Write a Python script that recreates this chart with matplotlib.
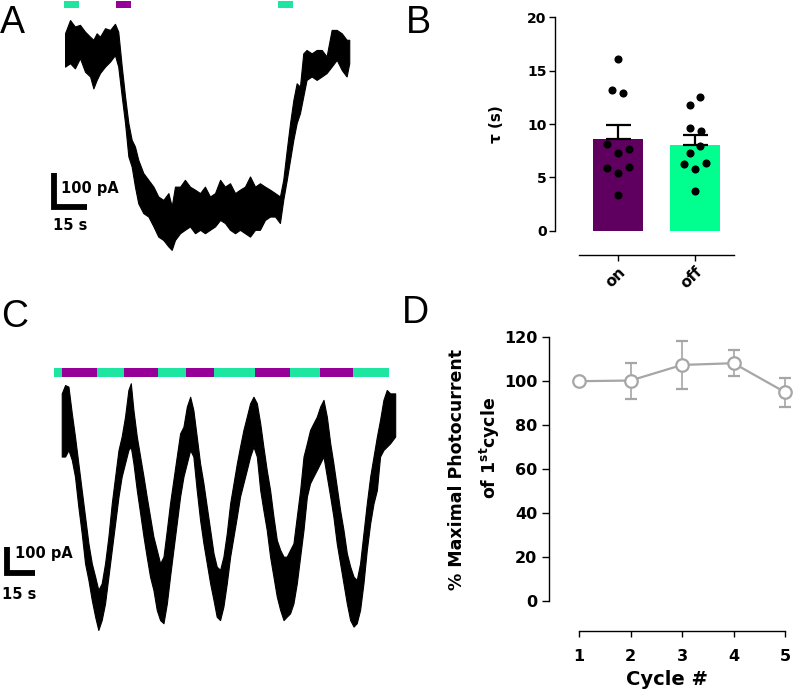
import matplotlib
matplotlib.use("Agg")
import matplotlib.pyplot as plt
import numpy as np

plt.rcParams['font.family'] = ['DejaVu Sans']

W, H = 793, 700

# ---------------- data ----------------
# Panel A: photocurrent trace envelope (time in s, current in pA)
a_time = [0, 2.3, 4.5, 6.8, 9.1, 11.4, 12.9, 14.4, 15.9, 18.2, 20.5, 22.7, 24.2, 25.8,
          27.3, 28.8, 30.3, 31.8, 33.3, 35.6, 37.9, 40.2, 42.4, 44.7, 47.0, 48.5, 50.0,
          52.3, 54.5, 56.8, 59.1, 61.4, 63.6, 65.9, 68.2, 70.5, 72.7, 75.0, 77.3, 79.5,
          81.8, 84.1, 86.4, 88.6, 90.9, 93.2, 95.5, 97.7, 99.2, 100.8, 102.3, 103.8,
          105.3, 106.8, 108.3, 109.8, 112.1, 114.4, 116.7, 118.9, 121.2, 123.5, 125.8,
          128.0, 129.2]
a_upper = [40, 79, 60, 65, 45, 30, 21, 40, 30, 55, 50, 68, 45, -58,
           -146, -224, -273, -293, -332, -371, -391, -411, -440, -450, -430, -469, -411,
           -411, -391, -411, -420, -430, -411, -440, -430, -391, -411, -401, -430, -420,
           -411, -381, -411, -401, -411, -420, -430, -440, -391, -303, -224, -156,
           -107, -117, -19, -9, -19, -9, -9, -28, 50, 50, 40,
           21, 21]
a_lower = [-58, -48, -63, -33, -73, -87, -122, -97, -77, -58, -43, -24, -58, -146,
           -224, -322, -352, -411, -460, -489, -499, -528, -558, -568, -587, -597, -568,
           -548, -538, -528, -548, -538, -548, -538, -528, -509, -518, -538, -548, -538,
           -548, -558, -538, -538, -509, -499, -499, -518, -450, -391, -332, -273,
           -224, -195, -146, -97, -87, -97, -87, -77, -58, -38, -68,
           -87, -48]
# light stimuli in A (start s, end s, type)
a_stim = [(-0.3, 6.5, 'blue'), (23.0, 29.9, 'red'), (97.0, 103.8, 'blue')]

# Panel B: tau values (s)
tau_on = [16.06, 13.19, 12.91, 8.16, 7.25, 7.63, 5.91, 5.41, 6.00, 3.34]
tau_off = [12.53, 11.81, 9.66, 9.38, 7.97, 7.31, 6.22, 6.38, 5.78, 3.69]
b_categories = ['on', 'off']

# Panel C: repeated cycles trace envelope (time in s, current in pA)
c_time = [0, 1.8, 3.6, 5.4, 7.1, 8.9, 10.7, 12.5, 14.3, 16.1, 17.9, 19.6, 21.4, 23.2,
          25.0, 26.8, 28.6, 30.4, 32.1, 33.9, 35.7, 37.0, 38.4, 40.2, 42.0, 43.8, 45.5,
          47.3, 49.1, 50.9, 52.7, 54.5, 56.3, 58.0, 59.8, 61.6, 63.4, 65.2, 67.0, 68.8,
          70.5, 72.3, 74.1, 75.9, 77.7, 79.5, 81.3, 83.0, 84.8, 86.6, 88.4, 90.2, 92.0,
          93.8, 95.5, 97.3, 99.1, 100.9, 102.7, 104.5, 106.3, 108.0, 109.8, 111.6, 113.4,
          115.2, 117.0, 118.8, 120.5, 122.3, 124.1, 125.9, 127.7, 129.5, 131.3, 133.0,
          134.8, 136.6, 138.4, 140.2, 142.0, 143.8, 145.5, 147.3, 149.1, 150.9, 152.7,
          154.5, 156.3, 158.0, 159.8, 161.6, 163.4, 165.2, 167.0, 168.8, 170.5, 172.3,
          174.1, 175.9, 178.6]
c_upper = [-13, 19, 13, -90, -179, -282, -385, -487, -590, -667, -718, -769, -744, -667,
           -564, -436, -333, -231, -179, -103, 0, 26, -77, -179, -256, -333, -410,
           -487, -564, -615, -667, -641, -538, -436, -346, -256, -167, -141, -64, -26,
           -77, -179, -282, -359, -449, -538, -628, -679, -692, -641, -551, -436, -359,
           -282, -218, -154, -103, -51, -26, -51, -128, -218, -308, -385, -487,
           -577, -615, -641, -641, -615, -590, -487, -385, -256, -205, -154,
           -128, -103, -64, -38, -103, -205, -282, -372, -462, -538, -628,
           -679, -718, -731, -667, -551, -436, -333, -256, -179, -115, -38,
           0, -13, -13]
c_lower = [-256, -256, -231, -269, -333, -449, -551, -667, -731, -808, -872, -923, -885, -821,
           -718, -615, -513, -410, -333, -282, -231, -218, -282, -385, -474, -564, -641,
           -718, -769, -846, -885, -897, -821, -718, -615, -513, -410, -333, -282, -231,
           -256, -385, -500, -590, -667, -744, -808, -872, -885, -833, -744, -641, -564,
           -487, -410, -359, -308, -256, -218, -256, -385, -462, -538, -641, -718,
           -795, -846, -885, -872, -859, -821, -744, -641, -538, -410, -359,
           -333, -308, -282, -256, -333, -410, -487, -590, -667, -744, -821,
           -885, -910, -897, -846, -744, -615, -513, -436, -385, -256, -231,
           -218, -205, -179]
# light stimuli in C (start s, end s, type)
c_stim = [(-4.0, 0.3, 'blue'), (0.3, 18.7, 'red'), (18.7, 33.5, 'blue'),
          (33.5, 51.7, 'red'), (51.7, 66.6, 'blue'), (66.6, 81.6, 'red'),
          (81.6, 103.5, 'blue'), (103.5, 122.3, 'red'), (122.3, 138.3, 'blue'),
          (138.3, 156.2, 'red'), (156.2, 175.3, 'blue')]

# Panel D
cycles = [1, 2, 3, 4, 5]
pct_mean = [100.0, 100.3, 107.4, 108.2, 95.0]
pct_err = [0.0, 8.2, 11.0, 5.8, 6.6]

# ---------------- styles ----------------
STIM_COL = {'blue': '#1ee6a0', 'red': '#960096'}
BAR_COL = ['#5f0060', '#00ff8f']
GREY = '#a6a6a6'
on_offsets = [0.0, -0.08, 0.065, -0.14, 0.0, 0.14, -0.14, 0.0, 0.14, 0.0]
off_offsets = [0.065, -0.07, -0.065, 0.075, 0.07, -0.07, -0.14, 0.14, 0.0, 0.0]


def box(l, t, w, h):
    return [l / W, 1 - (t + h) / H, w / W, h / H]


fig = plt.figure(figsize=(W / 100, H / 100), dpi=100)

# ---------------- Panel A ----------------
axA = fig.add_axes(box(65, 0, 286, 256))
axA.fill_between(a_time, a_lower, a_upper, color='black', lw=0.8)
axA.set_xlim(0, 130)
axA.set_ylim(-615, 138)
for s, e, kind in a_stim:
    axA.fill_between([s, e], [114, 114], [135, 135], color=STIM_COL[kind],
                     lw=0, clip_on=False)
axA.axis('off')
# scale bar 15 s / 100 pA
axA.plot([-4.8, -4.8, 10.2], [-371, -471, -471], color='black', lw=4.2,
         solid_joinstyle='miter', solid_capstyle='butt', clip_on=False)
axA.text(-2.0, -415, '100 pA', fontsize=10.5, fontweight='bold', va='center', ha='left')
axA.text(-5.5, -526, '15 s', fontsize=10.5, fontweight='bold', va='center', ha='left')

# ---------------- Panel B ----------------
axB = fig.add_axes(box(555, 17.3, 179.3, 213.4))
axB.spines['top'].set_visible(False)
axB.spines['right'].set_visible(False)
axB.spines['bottom'].set_position(('outward', 17.5))
axB.spines['bottom'].set_bounds(-0.5, 1.51)
axB.spines['left'].set_linewidth(1.0)
axB.spines['bottom'].set_linewidth(1.0)
axB.tick_params(axis='y', length=4.5, width=1.0, pad=1.5)
axB.tick_params(axis='x', length=4.5, width=1.0, pad=2)
xpos = np.arange(len(b_categories))
groups = [tau_on, tau_off]
offsets = [on_offsets, off_offsets]
for i, vals in enumerate(groups):
    m = np.mean(vals)
    sem = np.std(vals, ddof=1) / np.sqrt(len(vals))
    axB.bar(xpos[i], m, width=0.66, color=BAR_COL[i], zorder=1)
    axB.errorbar(xpos[i], m, yerr=[[0], [sem]], color='black', capsize=9,
                 elinewidth=1.6, capthick=1.6, zorder=2)
    axB.scatter(xpos[i] + np.array(offsets[i]), vals, s=34, color='black',
                zorder=3, clip_on=False, linewidths=0)
axB.set_xlim(-0.818, 1.51)
axB.set_ylim(0, 20)
axB.set_yticks([0, 5, 10, 15, 20])
axB.set_yticklabels(['0', '5', '10', '15', '20'], fontsize=10, fontweight='bold')
axB.set_xticks(xpos)
axB.set_xticklabels(b_categories, rotation=45, ha='right', va='top',
                    rotation_mode='anchor', fontsize=11, fontweight='bold')
axB.set_ylabel('τ (s)', fontsize=11, fontweight='bold')
axB.yaxis.set_label_coords(-0.284, 0.5)

# ---------------- Panel C ----------------
axC = fig.add_axes(box(52.4, 364, 345.4, 273))
axC.fill_between(c_time, c_lower, c_upper, color='black', lw=0.8)
axC.set_xlim(-5, 180)
axC.set_ylim(-950, 100)
for s, e, kind in c_stim:
    axC.fill_between([s, e], [50, 50], [85, 85], color=STIM_COL[kind], lw=0,
                     clip_on=False)
axC.axis('off')
axC.plot([-29.3, -29.3, -14.3], [-602, -702, -702], color='black', lw=4.2,
         solid_joinstyle='miter', solid_capstyle='butt', clip_on=False)
axC.text(-25.0, -627, '100 pA', fontsize=10.5, fontweight='bold', va='center', ha='left')
axC.text(-32.0, -785, '15 s', fontsize=10.5, fontweight='bold', va='center', ha='left')

# ---------------- Panel D ----------------
axD = fig.add_axes(box(549, 337.3, 236, 263.4))
axD.spines['top'].set_visible(False)
axD.spines['right'].set_visible(False)
axD.spines['bottom'].set_position(('outward', 21.6))
axD.spines['bottom'].set_bounds(1, 5)
axD.spines['left'].set_linewidth(1.0)
axD.spines['bottom'].set_linewidth(1.0)
axD.tick_params(axis='y', length=5, width=1.0, pad=3.5)
axD.tick_params(axis='x', length=4.5, width=1.0, pad=9)
axD.errorbar(cycles, pct_mean, yerr=pct_err, color=GREY, lw=1.6, elinewidth=1.2,
             capsize=4, capthick=1.2, marker='o', markersize=9, mfc='white',
             mec=GREY, mew=1.6, clip_on=False, zorder=3)
axD.set_xlim(0.417, 5.0)
axD.set_ylim(0, 120)
yt = [0, 20, 40, 60, 80, 100, 120]
axD.set_yticks(yt)
axD.set_yticklabels([str(v) for v in yt], fontsize=11.5, fontweight='bold')
axD.set_xticks(cycles)
axD.set_xticklabels([str(c) for c in cycles], fontsize=11.5, fontweight='bold')
axD.set_xlabel('Cycle #', fontsize=14, fontweight='bold', labelpad=4)

fig.text(457.5 / W, 1 - 470 / H, '% Maximal Photocurrent', rotation=90,
         ha='center', va='center', fontsize=12.5, fontweight='bold')
fig.text(490 / W, 1 - 447.5 / H, r'of 1$^{\mathbf{st}}$cycle', rotation=90,
         ha='center', va='center', fontsize=12.5, fontweight='bold')

# ---------------- panel letters ----------------
for letter, x, yb in [('A', 0, 33.3), ('B', 406, 33.0), ('C', 1, 326.7), ('D', 402, 323.3)]:
    fig.text(x / W, 1 - yb / H, letter, fontsize=27, ha='left', va='baseline',
             family=['Liberation Sans', 'DejaVu Sans'])

fig.savefig('out.png', dpi=100)
